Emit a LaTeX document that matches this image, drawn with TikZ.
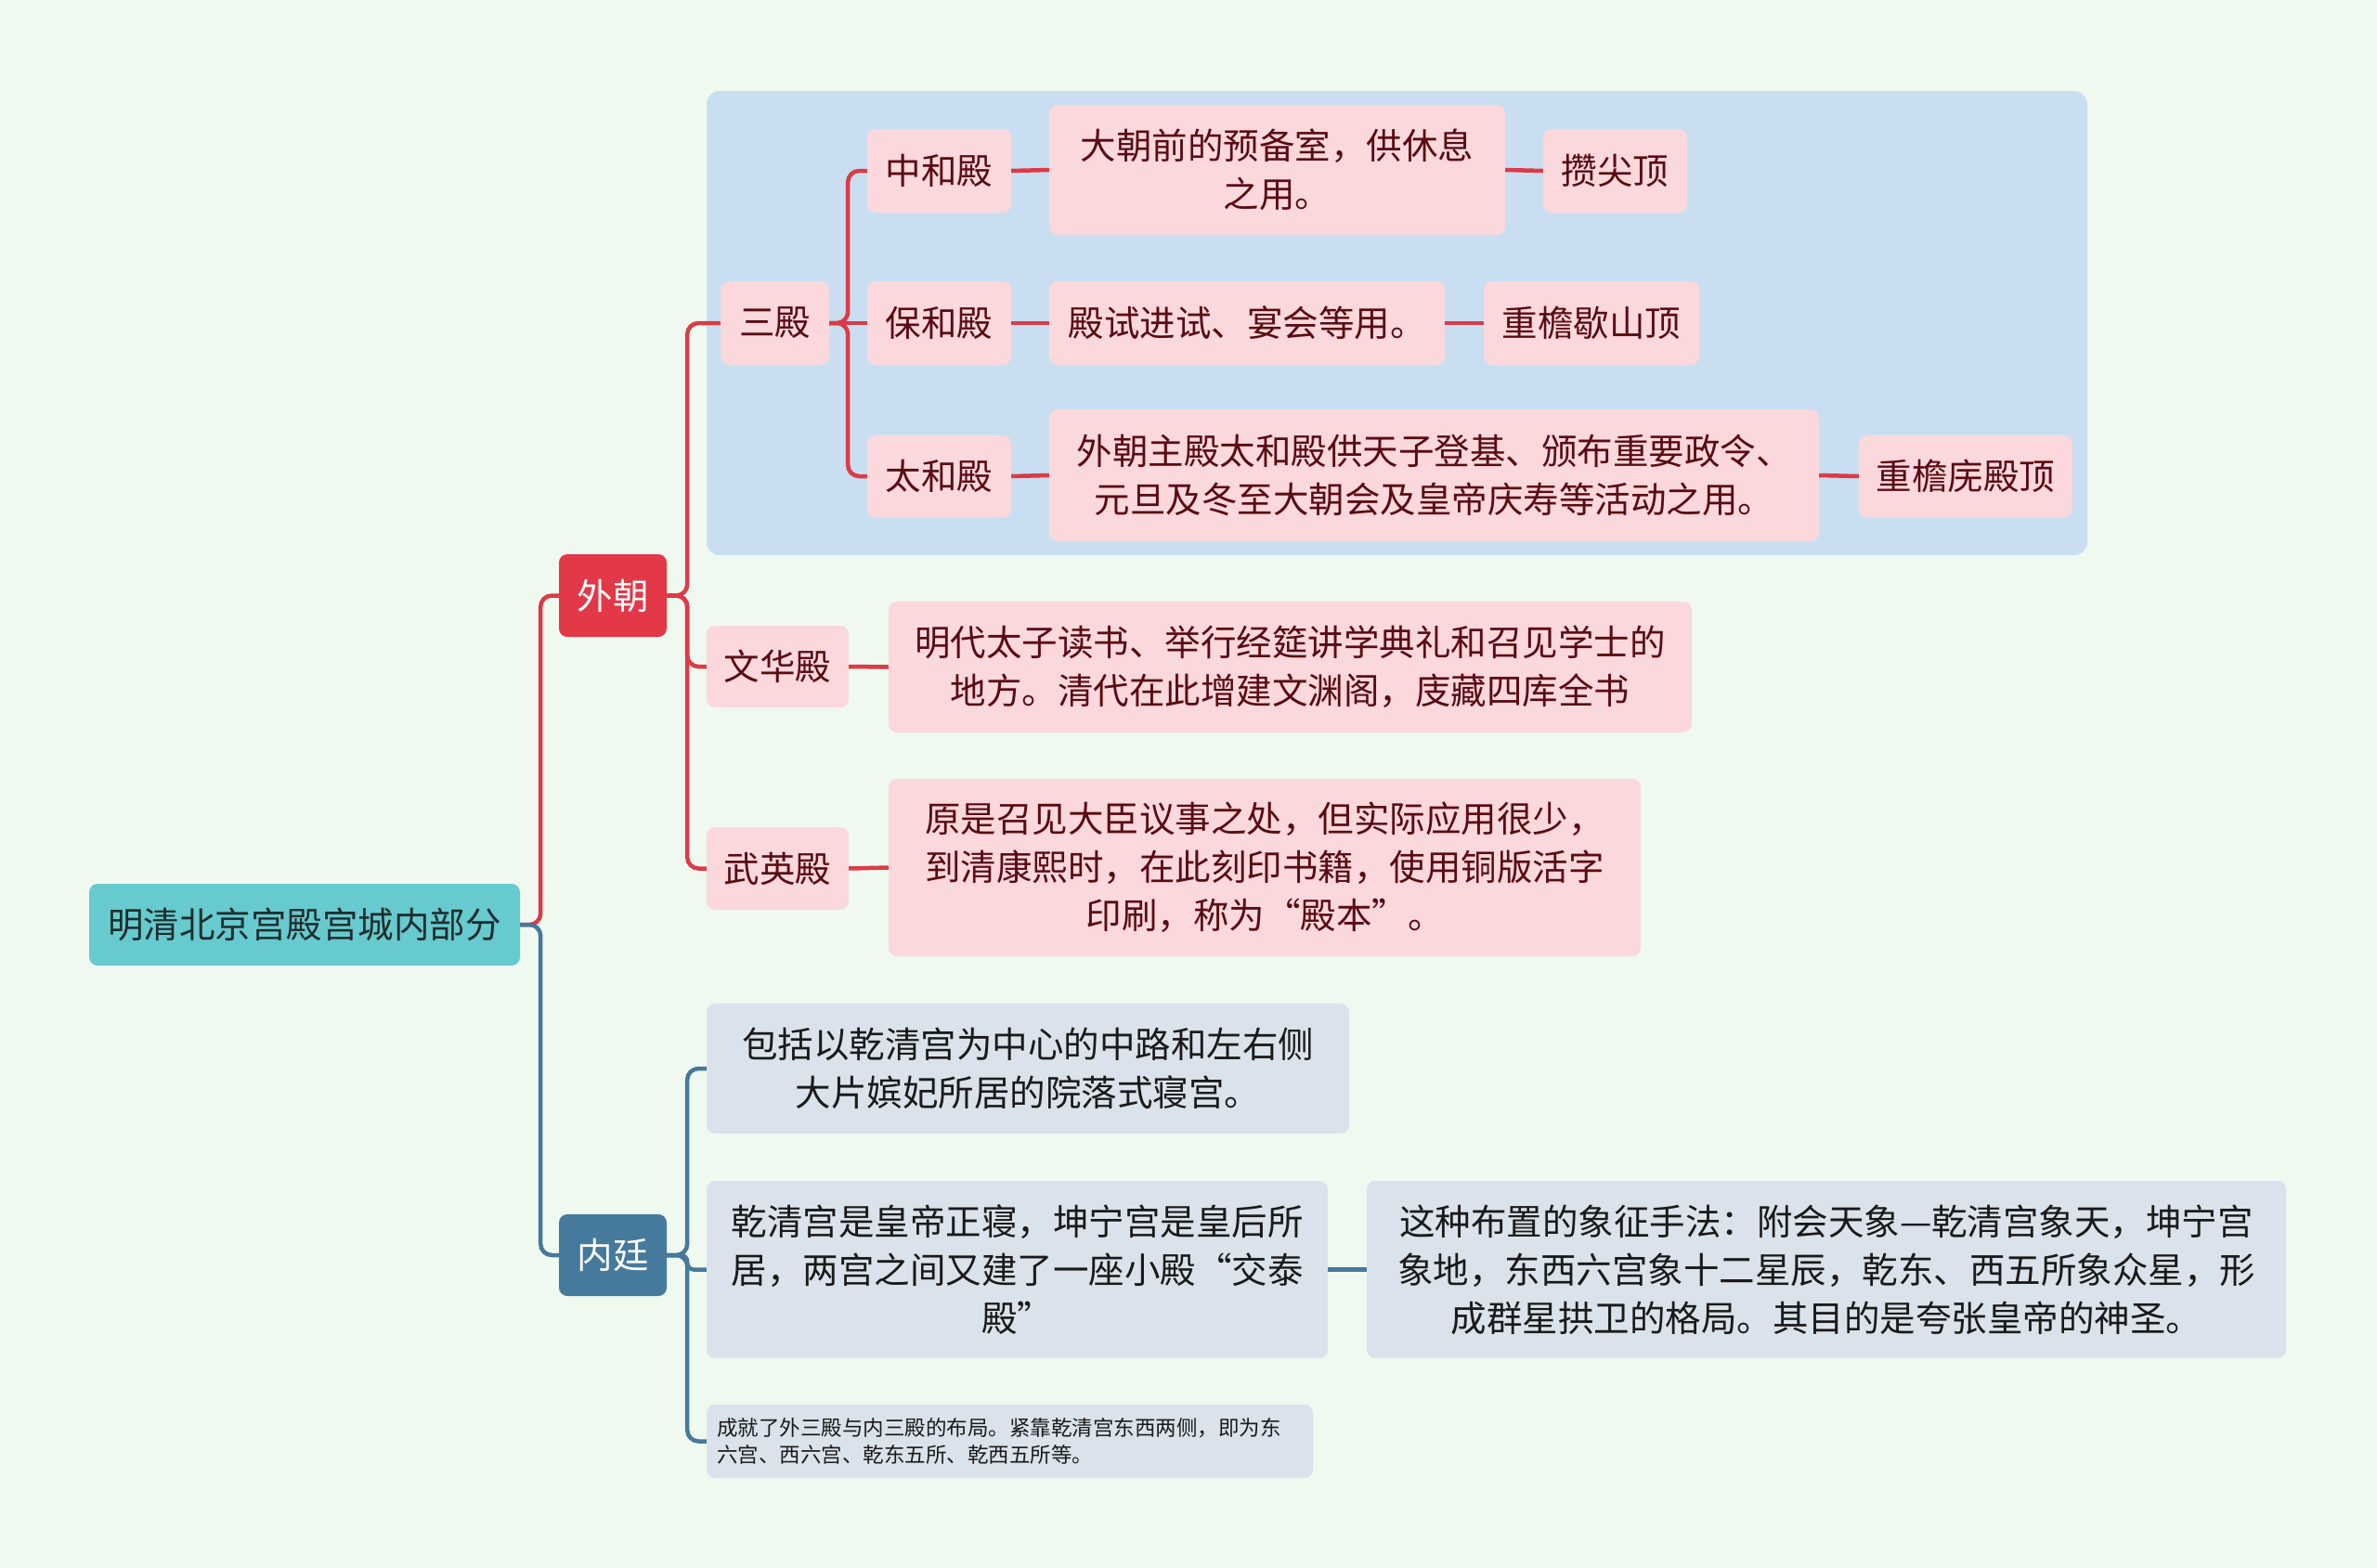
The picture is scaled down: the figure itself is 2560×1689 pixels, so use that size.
\documentclass[tikz,border=0pt]{standalone}
\usepackage{fontspec}
\setmainfont{Noto Sans CJK SC}
\definecolor{bgc}{HTML}{F0F9EF}
\definecolor{groupbg}{HTML}{C9DFF1}
\definecolor{pinkbox}{HTML}{FAD8DC}
\definecolor{graybox}{HTML}{DAE3EB}
\definecolor{linered}{HTML}{DC3B47}
\definecolor{redfill}{HTML}{E23847}
\definecolor{lineblue}{HTML}{46799B}
\definecolor{bluefill}{HTML}{457A9C}
\definecolor{rootfill}{HTML}{66CACE}
\definecolor{roottext}{HTML}{1F2D2E}
\definecolor{darkred}{HTML}{5A0B12}
\definecolor{textdark}{HTML}{1A1A1A}
\begin{document}
\begin{tikzpicture}[x=1pt,y=-1pt,
 box/.style={rounded corners=9pt, inner sep=0pt, align=center, font=\fontsize{38.5}{52}\selectfont},
 pk/.style={box, fill=pinkbox, text=darkred},
 gy/.style={box, fill=graybox, text=textdark},
 rl/.style={draw=linered, line width=4.5pt, rounded corners=12pt},
 bl/.style={draw=lineblue, line width=4.5pt, rounded corners=12pt},
]
\fill[bgc] (0,0) rectangle (2560,1689);
\useasboundingbox (0,0) rectangle (2560,1689);
\fill[groupbg, rounded corners=14pt] (761,98) rectangle (2248,598);

% level 0/1
\node[box, fill=rootfill, text=roottext, minimum width=464pt, minimum height=88pt] (root) at (328,996) {明清北京宫殿宫城内部分};
\node[box, fill=redfill, text=white, minimum width=116pt, minimum height=89pt] (waichao) at (660,641.5) {外朝};
\node[box, fill=bluefill, text=white, minimum width=116pt, minimum height=88pt] (neiting) at (660,1352) {内廷};

% 外朝 children
\node[pk, minimum width=117pt, minimum height=90pt] (sandian) at (834.5,348) {三殿};
\node[pk, minimum width=155pt, minimum height=90pt] (zhonghe) at (1011.5,184) {中和殿};
\node[pk, minimum width=155pt, minimum height=90pt] (baohe) at (1011.5,348) {保和殿};
\node[pk, minimum width=155pt, minimum height=88pt] (taihe) at (1011.5,513) {太和殿};
\node[pk, minimum width=491pt, minimum height=140pt] (tzh) at (1375.5,183) {大朝前的预备室，供休息\\之用。};
\node[pk, minimum width=155pt, minimum height=90pt] (zuanjian) at (1739.5,184) {攒尖顶};
\node[pk, minimum width=426pt, minimum height=90pt] (tbh) at (1343,348) {殿试进试、宴会等用。};
\node[pk, minimum width=232pt, minimum height=90pt] (xieshan) at (1714,348) {重檐歇山顶};
\node[pk, minimum width=829pt, minimum height=142pt] (tth) at (1544.5,512) {外朝主殿太和殿供天子登基、颁布重要政令、\\元旦及冬至大朝会及皇帝庆寿等活动之用。};
\node[pk, minimum width=230pt, minimum height=88pt] (wudian) at (2117,513) {重檐庑殿顶};
\node[pk, minimum width=153pt, minimum height=88pt] (wenhua) at (837.5,718) {文华殿};
\node[pk, minimum width=865pt, minimum height=141pt] (twh) at (1389.5,718.5) {明代太子读书、举行经筵讲学典礼和召见学士的\\地方。清代在此增建文渊阁，庋藏四库全书};
\node[pk, minimum width=153pt, minimum height=89pt] (wuying) at (837.5,935.5) {武英殿};
\node[pk, minimum width=810pt, minimum height=191pt] (twy) at (1362,934.5) {原是召见大臣议事之处，但实际应用很少，\\到清康熙时，在此刻印书籍，使用铜版活字\\印刷，称为“殿本”。};

% 内廷 children
\node[gy, minimum width=692pt, minimum height=140pt] (nt1) at (1107,1151) {包括以乾清宫为中心的中路和左右侧\\大片嫔妃所居的院落式寝宫。};
\node[gy, minimum width=669pt, minimum height=191pt] (nt2) at (1095.5,1367.5) {乾清宫是皇帝正寝，坤宁宫是皇后所\\居，两宫之间又建了一座小殿“交泰\\殿”};
\node[gy, minimum width=990pt, minimum height=191pt] (nt2b) at (1967,1367.5) {这种布置的象征手法：附会天象—乾清宫象天，坤宁宫\\象地，东西六宫象十二星辰，乾东、西五所象众星，形\\成群星拱卫的格局。其目的是夸张皇帝的神圣。};
\node[gy, text width=631pt, inner xsep=11pt, align=left, minimum height=79pt, font=\fontsize{22.5}{29}\selectfont] (nt3) at (1087.5,1552.5) {成就了外三殿与内三殿的布局。紧靠乾清宫东西两侧，即为东\\六宫、西六宫、乾东五所、乾西五所等。};

% connectors
\draw[rl] (root.east) -- ++(22,0) |- (waichao.west);
\draw[bl] (root.east) -- ++(22,0) |- (neiting.west);

\draw[rl] (waichao.east) -- ++(22,0) |- (sandian.west);
\draw[rl] (waichao.east) -- ++(22,0) |- (wenhua.west);
\draw[rl] (waichao.east) -- ++(22,0) |- (wuying.west);

\draw[rl] (sandian.east) -- ++(20,0) |- (zhonghe.west);
\draw[rl] (sandian.east) -- (baohe.west);
\draw[rl] (sandian.east) -- ++(20,0) |- (taihe.west);

\draw[rl] (zhonghe.east) -- (tzh.west);
\draw[rl] (tzh.east) -- (zuanjian.west);
\draw[rl] (baohe.east) -- (tbh.west);
\draw[rl] (tbh.east) -- (xieshan.west);
\draw[rl] (taihe.east) -- (tth.west);
\draw[rl] (tth.east) -- (wudian.west);
\draw[rl] (wenhua.east) -- (twh.west);
\draw[rl] (wuying.east) -- (twy.west);

\draw[bl] (neiting.east) -- ++(22,0) |- (nt1.west);
\draw[bl, rounded corners=7pt] (neiting.east) -- ++(22,0) |- (nt2.west);
\draw[bl] (neiting.east) -- ++(22,0) |- (nt3.west);
\draw[bl] (nt2.east) -- (nt2b.west);
\end{tikzpicture}
\end{document}
